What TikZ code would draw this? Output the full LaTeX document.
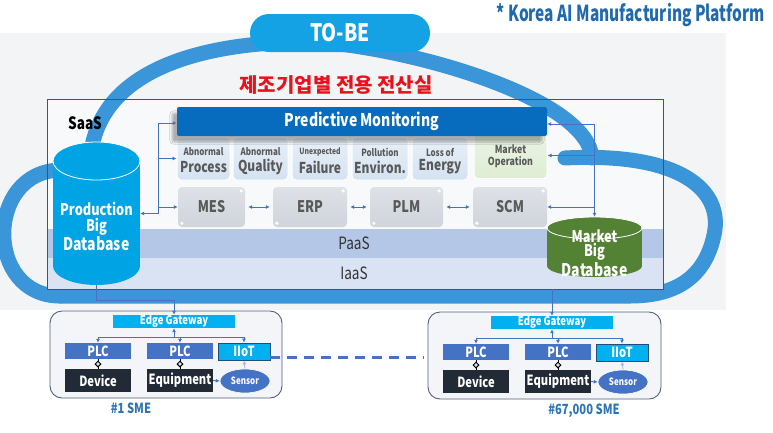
\documentclass[tikz,border=0pt]{standalone}
\usepackage{fontspec}
\setmainfont{Noto Sans CJK KR}[FakeStretch=0.8]
\newfontfamily\kor{Noto Sans CJK KR}
\newfontfamily\condf{Noto Sans CJK KR}[FakeStretch=0.7]
\usetikzlibrary{arrows.meta,shapes.geometric,calc,shadows.blur}
\definecolor{cloudblue}{RGB}{58,150,216}
\definecolor{cyanb}{RGB}{0,163,228}
\definecolor{pillc}{RGB}{20,162,228}
\definecolor{boxline}{RGB}{47,85,151}
\definecolor{paasc}{RGB}{180,199,231}
\definecolor{iaasc}{RGB}{218,227,243}
\definecolor{bgc}{RGB}{243,244,246}
\definecolor{boxin}{RGB}{248,249,251}
\definecolor{hdrc}{RGB}{8,108,190}
\definecolor{subtop}{RGB}{232,240,248}
\definecolor{subbot}{RGB}{212,226,241}
\definecolor{grntop}{RGB}{234,244,228}
\definecolor{grnbot}{RGB}{222,237,212}
\definecolor{gtop}{RGB}{222,225,230}
\definecolor{gbot}{RGB}{208,212,219}
\definecolor{txtg}{RGB}{89,89,89}
\definecolor{darktxt}{RGB}{50,50,50}
\definecolor{conn}{RGB}{68,114,196}
\definecolor{connl}{RGB}{170,185,215}
\definecolor{plcc}{RGB}{68,114,196}
\definecolor{iotc}{RGB}{0,176,240}
\definecolor{iotline}{RGB}{31,78,121}
\definecolor{devc}{RGB}{34,42,53}
\definecolor{mkgreen}{RGB}{84,130,53}
\definecolor{titleblue}{RGB}{31,105,175}
\definecolor{smeblue}{RGB}{46,117,182}
\definecolor{smefill}{RGB}{243,245,249}
\definecolor{smeline}{RGB}{80,96,122}
\definecolor{kred}{RGB}{232,18,28}
\newcommand{\fsz}[1]{\fontsize{#1}{#1}\selectfont}
\tikzset{
  cloudline/.style={draw=cloudblue, line width=15pt, line cap=round, line join=round},
  lbl/.style={inner sep=0pt, anchor=center},
  wtxt/.style={lbl, text=white, font=\bfseries\fsz{#1}},
  gtxt/.style={lbl, text=txtg, font=\bfseries\fsz{#1}},
  cn/.style={draw=conn, line width=0.8pt, >={Latex[length=4pt,width=4pt]}},
  cnl/.style={draw=connl, line width=0.8pt, >={Latex[length=4pt,width=4pt]}},
  subbox/.style={draw=white, line width=1pt, rounded corners=4pt, top color=subtop, bottom color=subbot, inner sep=0pt, minimum height=43pt},
  grnbox/.style={draw=white, line width=1pt, rounded corners=4pt, top color=grntop, bottom color=grnbot, inner sep=0pt},
  graybox/.style={rounded corners=4pt, top color=gtop, bottom color=gbot, inner sep=0pt, minimum height=40pt, text=txtg, font=\bfseries\fsz{16}},
  smebox/.style={draw=smeline, line width=0.9pt, fill=smefill, rounded corners=12pt, inner sep=0pt},
  plcbox/.style={fill=plcc, inner sep=0pt, minimum width=66pt, minimum height=16pt, text=white, font=\bfseries\fsz{14}},
  devbox/.style={fill=devc, inner sep=0pt, minimum width=66pt, minimum height=23pt, text=white, font=\bfseries\fsz{14}},
  gwbox/.style={fill=iotc, inner sep=0pt, minimum width=122pt, minimum height=13pt, text=white, font=\bfseries\fsz{12}},
  iotbox/.style={fill=iotc, draw=iotline, line width=0.8pt, inner sep=0pt, minimum width=52pt, minimum height=17pt, text=white, font=\bfseries\fsz{14}},
  sensorbox/.style={ellipse, fill=plcc, draw=white, line width=0.6pt, inner sep=0pt, minimum width=50pt, minimum height=24pt, text=white, font=\bfseries\fsz{10}},
  diam/.style={diamond, draw=black, fill=white!75!gray, line width=1pt, inner sep=0pt, minimum size=6pt},
  dashconn/.style={draw=conn, line width=3pt, dash pattern=on 10pt off 7pt},
  dot/.style={circle, fill=white, inner sep=0pt, minimum size=3.5pt}
}
\begin{document}
\begin{tikzpicture}[x=1pt,y=-1pt]
\useasboundingbox (0,0) rectangle (773,432);
\fill[white] (0,0) rectangle (773,432);
\fill[bgc] (0,33) rectangle (726,310);
\fill[boxin] (47,99) rectangle (663,289);
% cloud
\draw[cloudline] (60,296) .. controls (-15,296) and (-15,172) .. (60,170) -- (90,170);
\draw[cloudline] (90,175) .. controls (85,62) and (220,40) .. (320,42) .. controls (420,50) and (588,100) .. (592,158);
\draw[cloudline] (565,158) .. controls (680,152) and (724,190) .. (714,235) .. controls (704,282) and (670,296) .. (630,296) -- (60,296);
% PaaS / IaaS
\fill[paasc] (47,229) rectangle (663,258);
\fill[iaasc] (47,258) rectangle (663,289);
\node[draw=boxline, line width=0.9pt, minimum width=616pt, minimum height=190pt, inner sep=0pt] (sbox) at (355,194) {};
\node[lbl, text=darktxt, font=\fsz{17}] (paasl) at (354,243) {PaaS};
\node[lbl, text=darktxt, font=\fsz{17}] (iaasl) at (354,273) {IaaS};
\node[lbl, text=black, font=\bfseries\fsz{17}] (saasl) at (85,123) {SaaS};
% TO-BE pill, titles
\node[fill=pillc, rounded corners=19pt, minimum width=180pt, minimum height=38pt, inner sep=0pt, text=white, font=\bfseries\fsz{24}] (tobe) at (340,33) {TO-BE};
\node[lbl, anchor=east, text=titleblue, font=\condf\bfseries\fsz{22}] (title) at (765,15) {* Korea AI Manufacturing Platform};
\node[lbl, text=kred, font=\kor\bfseries\fsz{20}] (kr) at (336,85) {제조기업별 전용 전산실};
% sub boxes
\node[subbox, minimum width=53pt] (proc) at (203.5,158.5) {};
\node[subbox, minimum width=55pt] (qual) at (260.5,158.5) {};
\node[subbox, minimum width=56pt] (fail) at (320,158.5) {};
\node[subbox, minimum width=56pt] (envr) at (380,158.5) {};
\node[subbox, minimum width=56pt] (enrg) at (440,158.5) {};
\node[grnbox, minimum width=73pt, minimum height=46pt] (mkop) at (510.5,155.5) {};
% header
\node[fill=hdrc, rounded corners=2pt, minimum width=370pt, minimum height=29pt, inner sep=0pt, text=white, font=\bfseries\fsz{17.5}, blur shadow={shadow xshift=-5pt, shadow yshift=-6pt, shadow blur steps=6, shadow opacity=30}] (hdr) at (362,121.5) {Predictive Monitoring};
% sub texts
\node[gtxt=10] (t1a) at (proc |- 0,152) {Abnormal};
\node[gtxt=15] (t1b) at (proc |- 0,167) {Process};
\node[gtxt=10] (t2a) at (qual |- 0,152) {Abnormal};
\node[gtxt=15] (t2b) at (qual |- 0,167) {Quality};
\node[gtxt=8.5] (t3a) at (fail |- 0,152) {Unexpected};
\node[gtxt=15] (t3b) at (fail |- 0,167) {Failure};
\node[gtxt=10] (t4a) at (envr |- 0,152) {Pollution};
\node[gtxt=15] (t4b) at (envr |- 0,167) {Environ.};
\node[gtxt=10] (t5a) at (enrg |- 0,152) {Loss of};
\node[gtxt=15] (t5b) at (enrg |- 0,167) {Energy};
\node[gtxt=11] (t6a) at (mkop |- 0,149) {Market};
\node[gtxt=11] (t6b) at (mkop |- 0,162) {Operation};
% gray boxes
\node[graybox, minimum width=67pt] (mes) at (211.5,207) {MES};
\node[graybox, minimum width=74pt] (erp) at (310,207) {ERP};
\node[graybox, minimum width=73pt] (plm) at (406.5,207) {PLM};
\node[graybox, minimum width=74pt] (scm) at (510,207) {SCM};
\foreach \b in {mes,erp,plm,scm}{
  \node[dot] at ($(\b.north east)+(-4,4)$) {};
  \node[dot] at ($(\b.south west)+(4,-4)$) {};
}
\draw[cn,<->] ([xshift=3pt]mes.east) -- ([xshift=-3pt]erp.west);
\draw[cn,<->] ([xshift=3pt]erp.east) -- ([xshift=-3pt]plm.west);
\draw[cn,<->] ([xshift=3pt]plm.east) -- ([xshift=-3pt]scm.west);
% Production DB cylinder
\fill[cyanb] (53,161) rectangle (140,266);
\fill[cyanb] (96.5,266) ellipse [x radius=43.5, y radius=19];
\draw[white, line width=0.8pt, fill=cyanb] (96.5,161) ellipse [x radius=43.5, y radius=19];
\node[inner sep=0pt, minimum width=87pt, minimum height=143pt] (pdb) at (96.5,213.5) {};
\node[wtxt=16] (pdb1) at (96.5,209) {Production};
\node[wtxt=16] (pdb2) at (96.5,227) {Big};
\node[wtxt=17.5] (pdb3) at (96.5,244) {Database};
% Market DB cylinder
\fill[mkgreen] (547,228) rectangle (642,266);
\fill[mkgreen] (594.5,266) ellipse [x radius=47.5, y radius=11];
\draw[white, line width=0.8pt, fill=mkgreen] (594.5,228) ellipse [x radius=47.5, y radius=11];
\node[inner sep=0pt, minimum width=95pt, minimum height=60pt] (mdb) at (594.5,247) {};
\node[wtxt=16] (mdb1) at (594.5,236) {Market};
\node[wtxt=16] (mdb2) at (594.5,252) {Big};
\node[wtxt=17.5] (mdb3) at (594.5,270) {Database};
% left bus
\coordinate (lbA) at (158,123);
\draw[cn,<->] (pdb.east) -| (lbA) -- (hdr.west |- lbA);
\draw[cn,->] (lbA |- proc.west) -- (proc.west);
\draw[cn,->] (lbA |- mes.west) -- (mes.west);
% right bus
\coordinate (rbA) at (594.5,124);
\draw[cn,<->] (hdr.east |- rbA) -- (rbA) -- (mdb.north);
\draw[cn,->] (rbA |- mkop.east) -- (mkop.east);
\draw[cn,->] (rbA |- scm.east) -- (scm.east);
% SME boxes
\node[smebox, minimum width=232pt, minimum height=87pt] (sme1) at (166,354.5) {};
\node[smebox, minimum width=233pt, minimum height=87pt] (sme2) at (544.5,355.5) {};
\foreach \s/\dx/\dy in {1/0/0,2/378/1}{
  \node[gwbox] (gw\s) at (174+\dx,321.5+\dy) {Edge Gateway};
  \node[plcbox] (plca\s) at (98+\dx,351+\dy) {PLC};
  \node[plcbox] (plcb\s) at (180+\dx,351+\dy) {PLC};
  \node[iotbox] (iiot\s) at (244+\dx,351.5+\dy) {IIoT};
  \node[devbox] (deva\s) at (98+\dx,380.5+\dy) {Device};
  \node[devbox] (devb\s) at (180+\dx,380.5+\dy) {Equipment};
  \node[sensorbox] (sens\s) at (245+\dx,381+\dy) {Sensor};
  \coordinate (bus\s) at (174+\dx,337+\dy);
  \draw[cn,->] (bus\s) -- (gw\s.south);
  \draw[cn,->] (bus\s) -| (plca\s.north);
  \draw[cn,->] (bus\s) -| (plcb\s.north);
  \draw[cn,->] (bus\s) -| (iiot\s.north);
  \draw[draw=black, line width=0.8pt] (plca\s.south) -- (deva\s.north) node[midway, diam] {};
  \draw[draw=black, line width=0.8pt] (plcb\s.south) -- (devb\s.north) node[midway, diam] {};
  \draw[cn,->] (devb\s.east) -- (sens\s.west);
  \draw[cnl,->] (sens\s.north) -- (iiot\s.south);
}
% uplinks
\draw[cn,->] (pdb.south) -- ++(0,15) -| (gw1.north);
\draw[cn,->] (gw2.north |- sbox.south) -- (gw2.north);
% dashed link
\coordinate (d1) at ([yshift=-5.5pt]iiot1.east);
\coordinate (d2) at ($(d1 -| sme2.west)+(-4,0)$);
\draw[dashconn] (d1) -- (d2);
% SME labels
\node[lbl, text=smeblue, font=\bfseries\fsz{14}] (l1) at (131,408) {\#1 SME};
\node[lbl, text=smeblue, font=\bfseries\fsz{14}] (l2) at (584,411) {\#67,000 SME};
\end{tikzpicture}
\end{document}
